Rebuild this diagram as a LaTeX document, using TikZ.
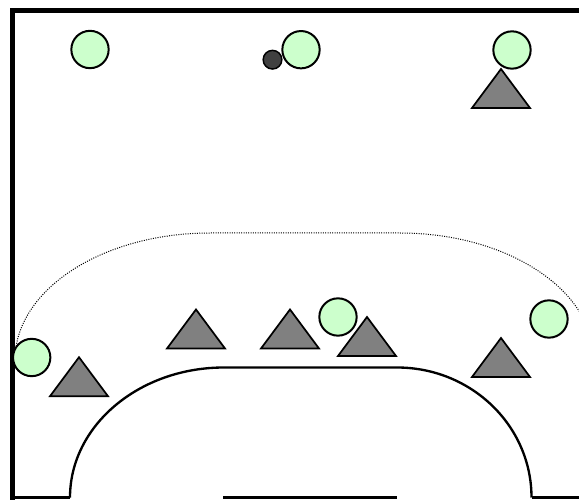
\documentclass[tikz,border=0pt]{standalone}
\usetikzlibrary{calc}
\definecolor{attgreen}{HTML}{CCFFCC}
\definecolor{defgray}{HTML}{808080}
\definecolor{balldark}{HTML}{404040}
\tikzset{
  framepen/.style={line width=4.1pt, line cap=rect},
  basepen/.style={line width=2.25pt},
  areapen/.style={line width=1.75pt},
  freethrow/.style={line width=0.75pt, densely dotted},
  attacker/.style={circle, draw=black, fill=attgreen, line width=1.5pt, minimum size=28pt, inner sep=0pt},
  ballstyle/.style={circle, draw=black, fill=balldark, line width=1.1pt, minimum size=14pt, inner sep=0pt},
  defender/.pic={\draw[line width=1.3pt, fill=defgray, line join=miter] (0,19.5) -- (-29,-19.5) -- (29,-19.5) -- cycle;}
}
\begin{document}
\begin{tikzpicture}[x=0.75pt,y=0.75pt]
\useasboundingbox (0,0) rectangle (579,500);
\clip (0,0) rectangle (579,500);
% frame
\draw[framepen] (12.5,2.5) -- (12.5,489.7) -- (600,489.7);
\draw[basepen] (10,2.5) -- (70,2.5);
\draw[basepen] (531.5,2.5) -- (600,2.5);
\draw[basepen] (223,2.5) -- (397,2.5);
% goal area line
\draw[areapen] (70,2.5) arc[start angle=180, end angle=90, x radius=154, y radius=130]
  -- (397,132.5) arc[start angle=90, end angle=0, x radius=134.5, y radius=130];
% free throw line
\draw[freethrow] (15,140) arc[start angle=180, end angle=90, x radius=195, y radius=127]
  -- (400,267) arc[start angle=90, end angle=0, x radius=194, y radius=127];
% defenders
\pic at (501,411.5) {defender};
\pic at (79,123.25) {defender};
\pic at (196,171) {defender};
\pic at (290,171) {defender};
\pic at (367,163.5) {defender};
\pic at (501,142.5) {defender};
% ball
\node[ballstyle] (ball) at (272.5,440.3) {};
% attackers
\node[attacker] (a1) at (90,450.5) {};
\node[attacker] (a2) at (301,450.3) {};
\node[attacker] (a3) at (512,450) {};
\node[attacker] (a4) at (31.7,142.5) {};
\node[attacker] (a5) at (338,183) {};
\node[attacker] (a6) at (549,181) {};
\end{tikzpicture}
\end{document}
